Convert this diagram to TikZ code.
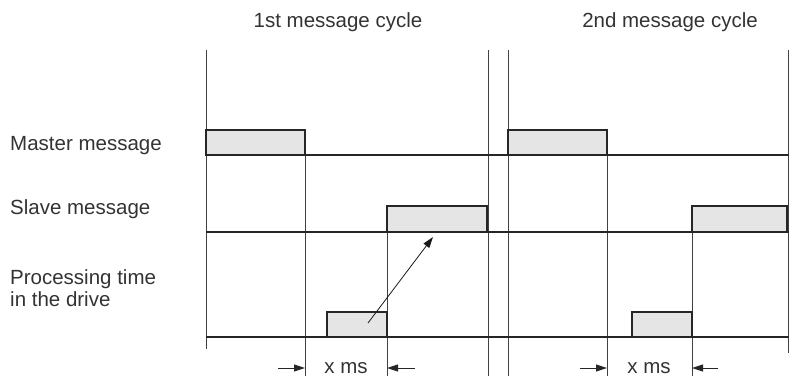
\documentclass[tikz,border=0pt]{standalone}
\usepackage{fontspec}
\setmainfont{Liberation Sans}
\usetikzlibrary{arrows.meta}
\begin{document}
\begin{tikzpicture}[x=1pt,y=-1pt,
  vline/.style={draw=black!75,line width=0.8pt},
  hline/.style={draw=black!85,line width=1.2pt},
  msgbox/.style={draw=black!85,fill=black!10,line width=1.5pt,line join=miter},
  lbl/.style={font=\fontsize{20.5}{22}\selectfont,text=black!80,inner sep=0pt},
  dimarrow/.style={draw=black!85,line width=0.9pt,-{Triangle[length=11pt,width=7pt]}},
  cause/.style={draw=black!90,line width=0.8pt,-{Triangle[length=11pt,width=7pt]}}]
\useasboundingbox (0,0) rectangle (789,376);
% vertical lines
\draw[vline] (206,50) -- (206,349);
\draw[vline] (305,130) -- (305,376);
\draw[vline] (387,206) -- (387,376);
\draw[vline] (488,50) -- (488,376);
\draw[vline] (508,50) -- (508,376);
\draw[vline] (607,130) -- (607,376);
\draw[vline] (692,206) -- (692,376);
\draw[vline] (788,50) -- (788,353);
% baselines
\draw[hline] (206,155) -- (789,155);
\draw[hline] (206,232) -- (789,232);
\draw[hline] (206,337) -- (789,337);
% message boxes
\path[msgbox] (206,130) rectangle (305,155);
\path[msgbox] (508,130) rectangle (607,155);
\path[msgbox] (387,206) rectangle (487,232);
\path[msgbox] (692,206) rectangle (787,232);
\path[msgbox] (327,312) rectangle (387,337);
\path[msgbox] (632,312) rectangle (692,337);
\coordinate (p1) at (368,323);
\coordinate (s1) at (433,237);
\draw[cause] (p1) -- (s1);
% labels
\node[lbl,anchor=base] (t1) at (338,27) {1st message cycle};
\node[lbl,anchor=base] (t2) at (670,27) {2nd message cycle};
\node[lbl,anchor=base west] (lm) at (10,150) {Master message};
\node[lbl,anchor=base west] (ls) at (10,214) {Slave message};
\node[lbl,anchor=base west,align=left] (lp) at (10,306) {Processing time\\in the drive};
% x ms
\node[lbl,anchor=base] (x1) at (346,373) {x ms};
\node[lbl,anchor=base] (x2) at (649,373) {x ms};
\coordinate (a1) at (278,368); \coordinate (b1) at (305,368);
\coordinate (a2) at (415,368); \coordinate (b2) at (387,368);
\coordinate (a3) at (580,368); \coordinate (b3) at (607,368);
\coordinate (a4) at (718,368); \coordinate (b4) at (692,368);
\draw[dimarrow] (a1) -- (b1);
\draw[dimarrow] (a2) -- (b2);
\draw[dimarrow] (a3) -- (b3);
\draw[dimarrow] (a4) -- (b4);
\end{tikzpicture}
\end{document}
